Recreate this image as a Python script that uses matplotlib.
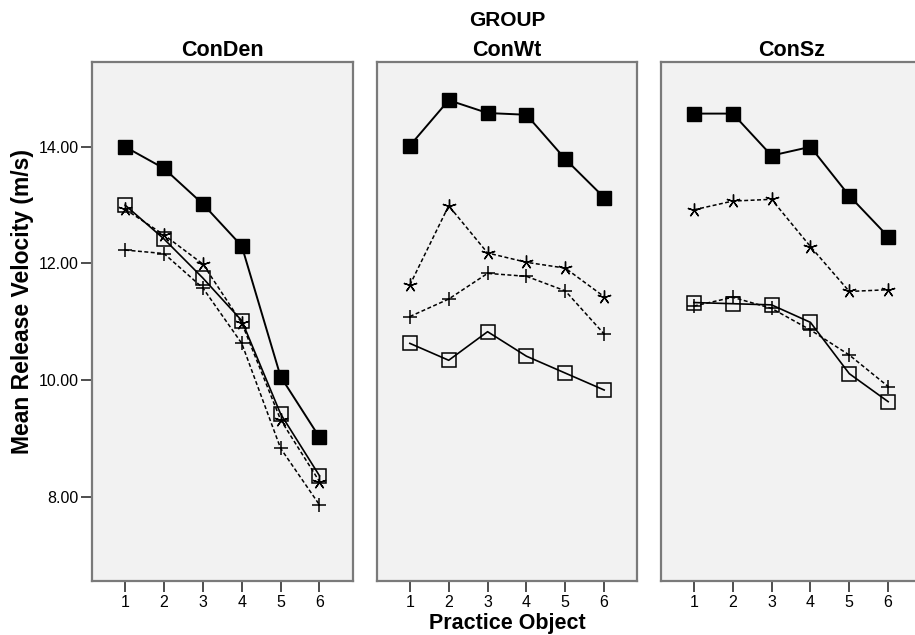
import matplotlib
matplotlib.use("Agg")
import matplotlib.pyplot as plt
from matplotlib.ticker import FixedLocator, FormatStrFormatter

plt.rcParams['font.family'] = ['Liberation Sans', 'DejaVu Sans']

groups = ["ConDen", "ConWt", "ConSz"]
practice_objects = [1, 2, 3, 4, 5, 6]
y_ticks = [8.0, 10.0, 12.0, 14.0]

# Mean release velocity (m/s) per group, one list per test condition
filled_square = {
    "ConDen": [14.00, 13.63, 13.02, 12.30, 10.06, 9.02],
    "ConWt":  [14.02, 14.80, 14.58, 14.55, 13.79, 13.13],
    "ConSz":  [14.57, 14.57, 13.85, 14.00, 13.16, 12.46],
}
open_square = {
    "ConDen": [13.00, 12.42, 11.75, 11.02, 9.42, 8.36],
    "ConWt":  [10.63, 10.34, 10.83, 10.41, 10.12, 9.83],
    "ConSz":  [11.33, 11.31, 11.29, 10.99, 10.11, 9.63],
}
star = {
    "ConDen": [12.93, 12.49, 11.99, 10.98, 9.32, 8.26],
    "ConWt":  [11.63, 12.99, 12.18, 12.02, 11.92, 11.43],
    "ConSz":  [12.92, 13.07, 13.10, 12.29, 11.52, 11.55],
}
plus = {
    "ConDen": [12.23, 12.17, 11.58, 10.63, 8.83, 7.86],
    "ConWt":  [11.09, 11.39, 11.83, 11.78, 11.53, 10.79],
    "ConSz":  [11.27, 11.42, 11.23, 10.86, 10.43, 9.89],
}

W, H = 915, 635
fig = plt.figure(figsize=(W / 100, H / 100), dpi=100)

panel_left_px = [92.3, 377.0, 661.0]
panel_w_px = 260.4
panel_top_px, panel_bot_px = 61.7, 580.7

frame_color = "#7a7a7a"
bg_color = "#f2f2f2"
dash = (2.6, 1.6)

axes = []
for i, g in enumerate(groups):
    ax = fig.add_axes([panel_left_px[i] / W, 1 - panel_bot_px / H,
                       panel_w_px / W, (panel_bot_px - panel_top_px) / H])
    ax.set_facecolor(bg_color)
    for s in ax.spines.values():
        s.set_color(frame_color)
        s.set_linewidth(1.6)

    ax.plot(practice_objects, plus[g], color="black", lw=1.1,
            linestyle=(0, dash), marker="+", markersize=10, mew=1.1, zorder=3)
    ax.plot(practice_objects, star[g], color="black", lw=1.1,
            linestyle=(0, dash), marker=(5, 2, 0), markersize=10, mew=1.0, zorder=3)
    ax.plot(practice_objects, open_square[g], color="black", lw=1.2,
            marker="s", markersize=10, mfc="none", mec="black", mew=1.1, zorder=4)
    ax.plot(practice_objects, filled_square[g], color="black", lw=1.4,
            marker="s", markersize=10, mfc="black", mec="black", zorder=5)

    ax.set_xlim(0.155, 6.855)
    ax.set_ylim(6.56, 15.46)
    ax.xaxis.set_major_locator(FixedLocator(practice_objects))
    ax.set_xticklabels([str(p) for p in practice_objects])
    ax.tick_params(axis="x", direction="out", length=8, width=1.3,
                   color="#404040", labelsize=11.5, pad=2.5)
    if i == 0:
        ax.yaxis.set_major_locator(FixedLocator(y_ticks))
        ax.yaxis.set_major_formatter(FormatStrFormatter("%.2f"))
        ax.tick_params(axis="y", direction="out", length=8, width=1.3,
                       color="#404040", labelsize=11.5, pad=2)
    else:
        ax.set_yticks([])
    cx = (panel_left_px[i] + panel_w_px / 2) / W
    fig.text(cx, 1 - 50 / H, g, ha="center", va="center",
             fontsize=15.5, fontweight="bold")
    axes.append(ax)

center2 = (panel_left_px[1] + panel_w_px / 2) / W
fig.text(center2, 1 - 21 / H, "GROUP", ha="center", va="center",
         fontsize=15, fontweight="bold")
fig.text(center2, 1 - 624 / H, "Practice Object", ha="center", va="center",
         fontsize=15.5, fontweight="bold")
fig.text(23 / W, 1 - 301 / H, "Mean Release Velocity (m/s)", ha="center",
         va="center", rotation=90, fontsize=16.5, fontweight="bold")

fig.savefig("out.png", dpi=100)
